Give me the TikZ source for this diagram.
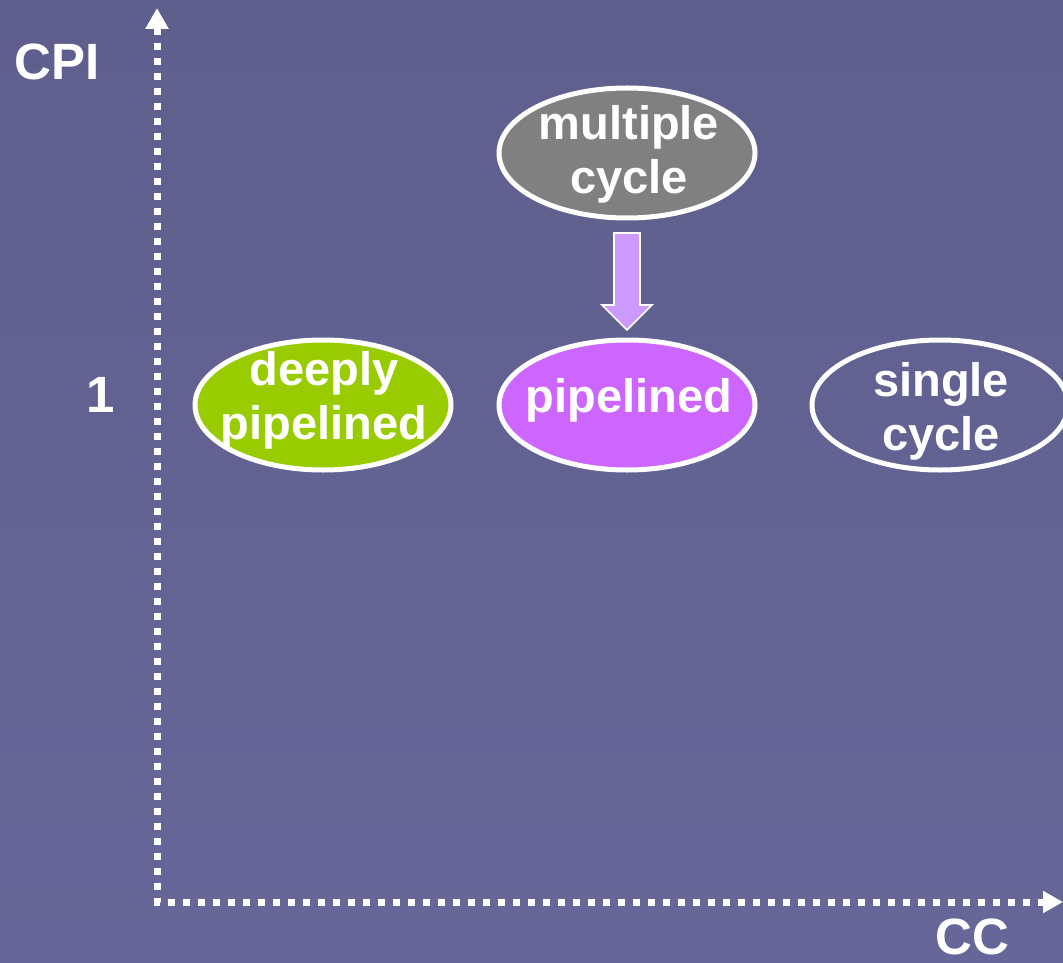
\documentclass[tikz,border=0pt]{standalone}
\usepackage{fontspec}
\setmainfont{Liberation Sans}
\usetikzlibrary{arrows.meta,shapes.geometric}
\definecolor{bgtop}{RGB}{95,95,142}
\definecolor{bgbot}{RGB}{102,102,152}
\definecolor{mgray}{RGB}{128,128,128}
\definecolor{mpurple}{RGB}{204,102,255}
\definecolor{mgreen}{RGB}{153,204,0}
\definecolor{lpurple}{RGB}{204,153,255}
\tikzset{
  lbl/.style={text=white,font=\fontsize{25.5}{28}\selectfont\bfseries,inner sep=0pt},
  oval/.style={ellipse,draw=white,line width=2.5pt,minimum width=128pt,minimum height=65pt,inner sep=0pt},
  ovaltext/.style={text=white,align=center,inner sep=0pt,font=\fontsize{23.5}{27}\selectfont\bfseries},
  axis/.style={draw=white,line width=3.5pt,dash pattern=on 3.5pt off 4pt}
}
\begin{document}
\begin{tikzpicture}[x=0.5pt,y=-0.5pt]
\useasboundingbox (0,0) rectangle (1063,962);
\clip (0,0) rectangle (1063,962);
\shade[top color=bgtop,bottom color=bgbot] (0,0) rectangle (1063,962);
% axes
\coordinate (origin) at (157,902);
\coordinate (ytip) at (157,8);
\coordinate (xtip) at (1063,902);
\draw[axis,{Triangle[width=11pt,length=10.5pt]}-{Triangle[width=10.5pt,length=10pt]}] (ytip) -- (origin) -- (xtip);
\node[lbl] (cpi) at (57,62) {CPI};
\node[lbl] (one) at (101,395) {1};
\node[lbl] (cc) at (972,937) {CC};
% ovals
\node[oval,fill=mgray] (multi) at (627,153) {};
\node[oval,fill=mpurple] (pipe) at (627,405) {};
\node[oval,fill=mgreen] (deep) at (323,405) {};
\node[oval] (single) at (940,405) {};
\node[ovaltext] (multit) at (629,154) {multiple\\cycle};
\node[ovaltext] (pipet) at (629,400) {pipelined};
\node[ovaltext] (deept) at (324,400) {deeply\\pipelined};
\node[ovaltext] (singlet) at (941,411) {single\\cycle};
% block arrow
\fill[lpurple,draw=white,line width=0.8pt]
  (614,233) -- (640,233) -- (640,305) -- (652,305) -- (627,330) -- (602,305) -- (614,305) -- cycle;
\end{tikzpicture}
\end{document}
